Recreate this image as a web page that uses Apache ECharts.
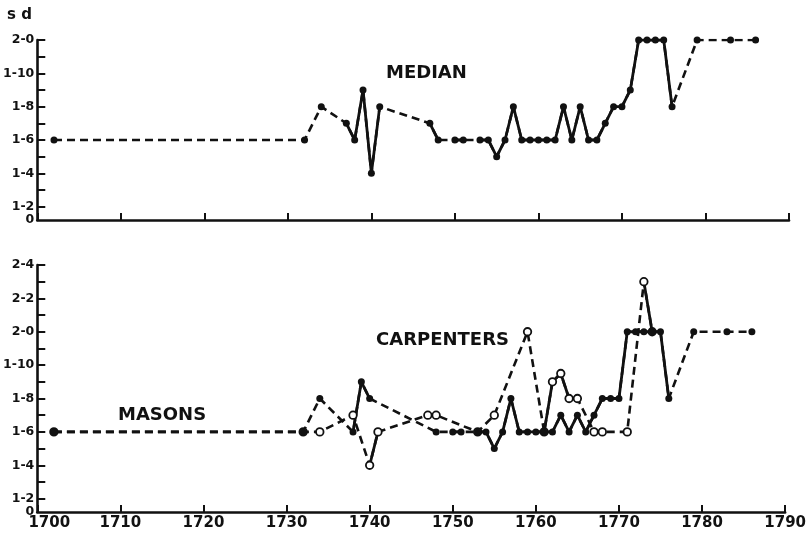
<!DOCTYPE html>
<html>
<head>
<meta charset="utf-8">
<script src="https://cdn.jsdelivr.net/npm/echarts@6/dist/echarts.min.js"></script>
<style>
  html, body { margin: 0; background: #fff; }
  #chart { width: 809px; height: 535px; }
</style>
</head>
<body>
<div id="chart"></div>
<script>
// wages in pence (1-6 = 1s 6d = 18d)
const medianYears = [1702, 1732, 1734, 1737, 1738, 1739, 1740, 1741, 1747, 1748,
  1750, 1751, 1753, 1754, 1755, 1756, 1757, 1758, 1759, 1760,
  1761, 1762, 1763, 1764, 1765, 1766, 1767, 1768, 1769, 1770,
  1771, 1772, 1773, 1774, 1775, 1776, 1779, 1783, 1786]
const medianVals = [18, 18, 20, 19, 18, 21, 16, 20, 19, 18,
  18, 18, 18, 18, 17, 18, 20, 18, 18, 18,
  18, 18, 20, 18, 20, 18, 18, 19, 20, 20,
  21, 24, 24, 24, 24, 20, 24, 24, 24]

const masonYears = [1702, 1732, 1734, 1738, 1739, 1740, 1748, 1750, 1751, 1753,
  1754, 1755, 1756, 1757, 1758, 1759, 1760, 1761, 1762, 1763,
  1764, 1765, 1766, 1767, 1768, 1769, 1770, 1771, 1772, 1773,
  1774, 1775, 1776, 1779, 1783, 1786]
const masonVals = [18, 18, 20, 18, 21, 20, 18, 18, 18, 18,
  18, 17, 18, 20, 18, 18, 18, 18, 18, 19,
  18, 19, 18, 19, 20, 20, 20, 24, 24, 24,
  24, 24, 20, 24, 24, 24]

const carpYears = [1702, 1732, 1734, 1738, 1740, 1741, 1747, 1748, 1753, 1755,
  1759, 1761, 1762, 1763, 1764, 1765, 1767, 1768, 1771, 1773, 1774]
const carpVals = [18, 18, 18, 19, 16, 18, 19, 19, 18, 19,
  24, 18, 21, 21.5, 20, 20, 18, 18, 18, 27, 24]

const topLabelVals = [13.2, 14, 16, 18, 20, 22, 24]
const bottomLabelVals = [13.2, 14, 16, 18, 20, 22, 24, 26, 28]

const INK = '#111'
const FONT = 'DejaVu Sans'

function toSd(v) {
  if (v < 14) return '0'
  const s = Math.floor(v / 12)
  return s + '-' + Math.round(v - s * 12)
}

function pennyTicks(max) {
  const out = []
  for (let p = 14; p <= max; p++) out.push(p)
  return out
}

// dashed line across gaps, solid between consecutive years
function lineSeries(years, vals, axis, z) {
  const pts = years.map((y, i) => [y, vals[i]])
  const solid = []
  years.forEach((y, i) => {
    solid.push(pts[i])
    if (i < years.length - 1 && years[i + 1] - y !== 1) {
      solid.push([(y + years[i + 1]) / 2, null])
    }
  })
  return [
    {
      type: 'line', xAxisIndex: axis, yAxisIndex: axis, data: pts,
      showSymbol: false, z: z, silent: true,
      lineStyle: { color: INK, width: 2.6, type: [8, 5] }
    },
    {
      type: 'line', xAxisIndex: axis, yAxisIndex: axis, data: solid,
      showSymbol: false, connectNulls: false, z: z + 1, silent: true,
      lineStyle: { color: INK, width: 2.8 }
    }
  ]
}

function dots(years, vals, axis, hollow, z) {
  return {
    type: 'scatter', xAxisIndex: axis, yAxisIndex: axis, z: z,
    data: years.map((y, i) => [y, vals[i]]),
    symbolSize: hollow ? 7.5 : 7,
    itemStyle: hollow
      ? { color: '#fff', borderColor: INK, borderWidth: 1.8, opacity: 1 }
      : { color: INK, opacity: 1 }
  }
}

function yAxis(grid, max, labels) {
  return {
    type: 'value', gridIndex: grid, min: 13.2, max: max,
    axisLine: { show: true, lineStyle: { color: INK, width: 2.6 } },
    axisTick: {
      show: true, inside: true, length: 8, customValues: pennyTicks(max),
      lineStyle: { color: INK, width: 2 }
    },
    axisLabel: {
      customValues: labels, formatter: toSd, margin: 3,
      showMinLabel: true, showMaxLabel: true, hideOverlap: false,
      color: INK, fontFamily: FONT, fontWeight: 'bold', fontSize: 12.5, lineHeight: 13
    },
    splitLine: { show: false }
  }
}

function xAxis(grid, showLabels) {
  return {
    type: 'value', gridIndex: grid, min: 1700, max: 1790, interval: 10,
    axisLine: { show: true, onZero: false, lineStyle: { color: INK, width: 2.6 } },
    axisTick: { show: true, inside: true, length: 7, lineStyle: { color: INK, width: 2 } },
    axisLabel: {
      show: showLabels, margin: 4, color: INK,
      fontFamily: FONT, fontWeight: 'bold', fontSize: 15,
      formatter: v => (v === 1700 ? '{a|1700}' : String(v)),
      rich: { a: { padding: [0, 0, 0, 24], fontFamily: FONT, fontWeight: 'bold', fontSize: 15, color: INK } }
    },
    splitLine: { show: false }
  }
}

const labelStyle = { fill: INK, fontFamily: FONT, fontWeight: 'bold', fontSize: 18 }

const chart = echarts.init(document.getElementById('chart'))
chart.setOption({
  animation: false,
  backgroundColor: '#fff',
  grid: [
    { left: 35, right: 20, top: 40, height: 180 },
    { left: 35, right: 20, top: 265, height: 247 }
  ],
  xAxis: [xAxis(0, false), xAxis(1, true)],
  yAxis: [yAxis(0, 24, topLabelVals), yAxis(1, 28, bottomLabelVals)],
  graphic: [
    { type: 'text', left: 7, top: 8, style: { text: 's d', fill: INK, fontFamily: FONT, fontWeight: 'bold', fontSize: 15 } },
    { type: 'text', left: 386, top: 64, style: Object.assign({ text: 'MEDIAN' }, labelStyle) },
    { type: 'text', left: 376, top: 331, style: Object.assign({ text: 'CARPENTERS' }, labelStyle) },
    { type: 'text', left: 118, top: 406, style: Object.assign({ text: 'MASONS' }, labelStyle) }
  ],
  series: [
    ...lineSeries(medianYears, medianVals, 0, 2),
    dots(medianYears, medianVals, 0, false, 5),
    ...lineSeries(carpYears, carpVals, 1, 2),
    ...lineSeries(masonYears, masonVals, 1, 2),
    dots(carpYears, carpVals, 1, true, 5),
    dots(masonYears, masonVals, 1, false, 6)
  ]
})
</script>
</body>
</html>
